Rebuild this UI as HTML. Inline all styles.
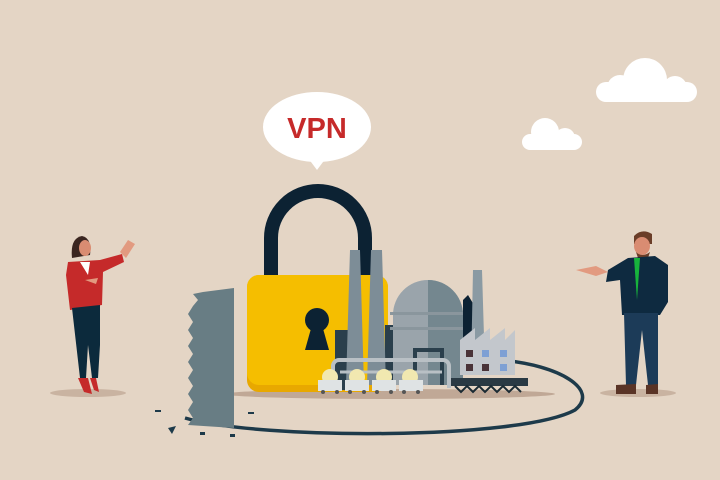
<!DOCTYPE html>
<html><head><meta charset="utf-8"><style>html,body{margin:0;padding:0;background:#e4d5c5}svg{display:block}</style></head>
<body>
<svg width="720" height="480" viewBox="0 0 720 480" xmlns="http://www.w3.org/2000/svg">
<rect width="720" height="480" fill="#e4d5c5"/>
<!-- clouds -->
<g fill="#fff">
<rect x="596" y="82" width="101" height="20" rx="10"/>
<circle cx="645" cy="80" r="22"/><circle cx="620" cy="88" r="13"/><circle cx="675" cy="88" r="12"/>
<rect x="522" y="134" width="60" height="16" rx="8"/>
<circle cx="545" cy="132" r="14"/><circle cx="565" cy="138" r="10"/>
</g>
<!-- shadows -->
<ellipse cx="88" cy="393" rx="38" ry="4" fill="#c9b3a1"/>
<ellipse cx="638" cy="393" rx="38" ry="4" fill="#c9b3a1"/>
<ellipse cx="390" cy="394" rx="165" ry="5" fill="#c0a896"/>
<!-- loop -->
<path d="M185,418 C260,440 520,440 575,410 C600,390 560,365 500,360" fill="none" stroke="#1d3a4a" stroke-width="3.5"/>
<!-- bubble -->
<ellipse cx="317" cy="127" rx="54" ry="35" fill="#fff"/>
<polygon points="308,158 326,158 317,170" fill="#fff"/>
<text x="317" y="138" text-anchor="middle" font-family="Liberation Sans, sans-serif" font-weight="bold" font-size="29" fill="#c62a2a">VPN</text>
<!-- shackle -->
<path d="M271,280 V238 A47,47 0 0 1 365,238 V280" fill="none" stroke="#0c2233" stroke-width="14"/>
<!-- lock body -->
<rect x="247" y="275" width="141" height="117" rx="12" fill="#e8a800"/>
<rect x="247" y="275" width="141" height="110" rx="12" fill="#f5be00"/>
<circle cx="317" cy="320" r="12" fill="#0c2233"/>
<polygon points="312,325 322,325 329,350 305,350" fill="#0c2233"/>
<!-- factory -->
<rect x="335" y="330" width="14" height="60" fill="#2a3f4c"/>
<rect x="385" y="325" width="12" height="60" fill="#2a3f4c"/>
<polygon points="350,250 360,250 364,385 346,385" fill="#7d8d97"/>
<polygon points="371,250 382,250 386,385 367,385" fill="#7d8d97"/>
<path d="M393,315 A35,35 0 0 1 463,315 V385 H393 Z" fill="#9aa4ab"/>
<path d="M428,280 A35,35 0 0 1 463,315 V385 H428 Z" fill="#74878f"/>
<rect x="390" y="312" width="76" height="3" fill="#8a969d"/>
<rect x="390" y="327" width="76" height="3" fill="#8a969d"/>
<path d="M415,385 V350 H442 V385" fill="none" stroke="#2a3f4c" stroke-width="4"/>
<polygon points="463,300 468,295 474,305 474,370 463,370" fill="#0c2233"/>
<polygon points="473,270 482,270 485,370 471,370" fill="#8a9aa3"/>
<polygon points="460,375 460,340 475,328 475,340 490,328 490,340 505,328 505,340 515,330 515,375" fill="#c3c7cc"/>
<g fill="#4a3338"><rect x="466" y="350" width="7" height="7"/><rect x="466" y="364" width="7" height="7"/><rect x="482" y="364" width="7" height="7"/></g>
<g fill="#7ea0d4"><rect x="482" y="350" width="7" height="7"/><rect x="500" y="350" width="7" height="7"/><rect x="500" y="364" width="7" height="7"/></g>
<rect x="450" y="378" width="78" height="8" fill="#2a3a44"/>
<path d="M455,386 l6,6 6,-6 6,6 6,-6 6,6 6,-6 6,6 6,-6 6,6 6,-6 6,6" fill="none" stroke="#1a2a33" stroke-width="2"/>
<path d="M333,372 V366 A6,6 0 0 1 339,360 H443 A6,6 0 0 1 449,366 V388" fill="none" stroke="#b9c0c5" stroke-width="4"/>
<path d="M340,372 H442" stroke="#b9c0c5" stroke-width="3"/>
<g>
<g fill="#f1e8b0"><circle cx="330" cy="377" r="8"/><circle cx="357" cy="377" r="8"/><circle cx="384" cy="377" r="8"/><circle cx="410" cy="377" r="8"/></g>
<g fill="#dfe3e4"><rect x="318" y="380" width="24" height="11"/><rect x="345" y="380" width="24" height="11"/><rect x="372" y="380" width="24" height="11"/><rect x="399" y="380" width="24" height="11"/></g>
<g fill="#555"><circle cx="323" cy="392" r="2"/><circle cx="337" cy="392" r="2"/><circle cx="350" cy="392" r="2"/><circle cx="364" cy="392" r="2"/><circle cx="377" cy="392" r="2"/><circle cx="391" cy="392" r="2"/><circle cx="404" cy="392" r="2"/><circle cx="418" cy="392" r="2"/></g>
</g>
<!-- saw -->
<polygon points="203,292 234,288 234,428 188,425 193,418 188,410 193,402 188,394 193,386 188,378 193,370 188,362 193,354 188,346 193,338 188,330 193,322 188,314 193,306 198,300 193,294" fill="#687d84"/>
<g fill="#1d3a4a"><polygon points="168,428 176,426 172,434"/><rect x="155" y="410" width="6" height="2"/><rect x="200" y="432" width="5" height="3"/><rect x="248" y="412" width="6" height="2"/><rect x="230" y="434" width="5" height="3"/></g>
<!-- woman -->
<g>
<path d="M72,258 Q70,238 82,236 Q92,238 90,255 Z" fill="#3a2520"/>
<ellipse cx="85" cy="248" rx="6" ry="8" fill="#d98c72"/>
<path d="M68,262 L100,260 L122,254 L124,262 L103,272 L102,305 L70,310 L66,275 Z" fill="#c52a2a"/>
<path d="M80,262 L90,262 L88,275 Z" fill="#fff"/>
<path d="M72,308 L100,305 L100,345 L98,378 L92,378 L88,345 L86,378 L80,378 Z" fill="#0c2a3c"/>
<path d="M78,378 L84,392 L92,394 L88,378 Z M90,378 L94,390 L99,392 L96,378 Z" fill="#c52a2a"/>
<path d="M120,252 L128,240 L135,244 L126,258 Z" fill="#e29a80"/>
<path d="M85,280 L98,278 L96,284 Z" fill="#e29a80"/>
</g>
<!-- man -->
<g>
<path d="M634,236 Q642,228 652,234 L652,244 L634,244 Z" fill="#6a3d28"/>
<ellipse cx="642" cy="246" rx="8" ry="9" fill="#d98c72"/>
<path d="M636,252 Q642,258 650,252 L648,258 L638,258 Z" fill="#6a3d28"/>
<path d="M608,270 L628,258 L655,256 L668,265 L668,302 L660,315 L622,315 L620,280 L606,282 Z" fill="#0e2a40"/>
<path d="M634,258 L640,258 L637,300 Z" fill="#17b33c"/>
<path d="M624,313 L658,313 L658,385 L648,385 L642,330 L636,385 L626,385 Z" fill="#1c3b58"/>
<path d="M616,385 L636,384 L636,394 L616,394 Z M646,385 L658,384 L658,394 L646,394 Z" fill="#5a3426"/>
<path d="M576,270 L596,266 L608,272 L596,276 Z" fill="#e29a80"/>
</g>
</svg>
</body></html>
